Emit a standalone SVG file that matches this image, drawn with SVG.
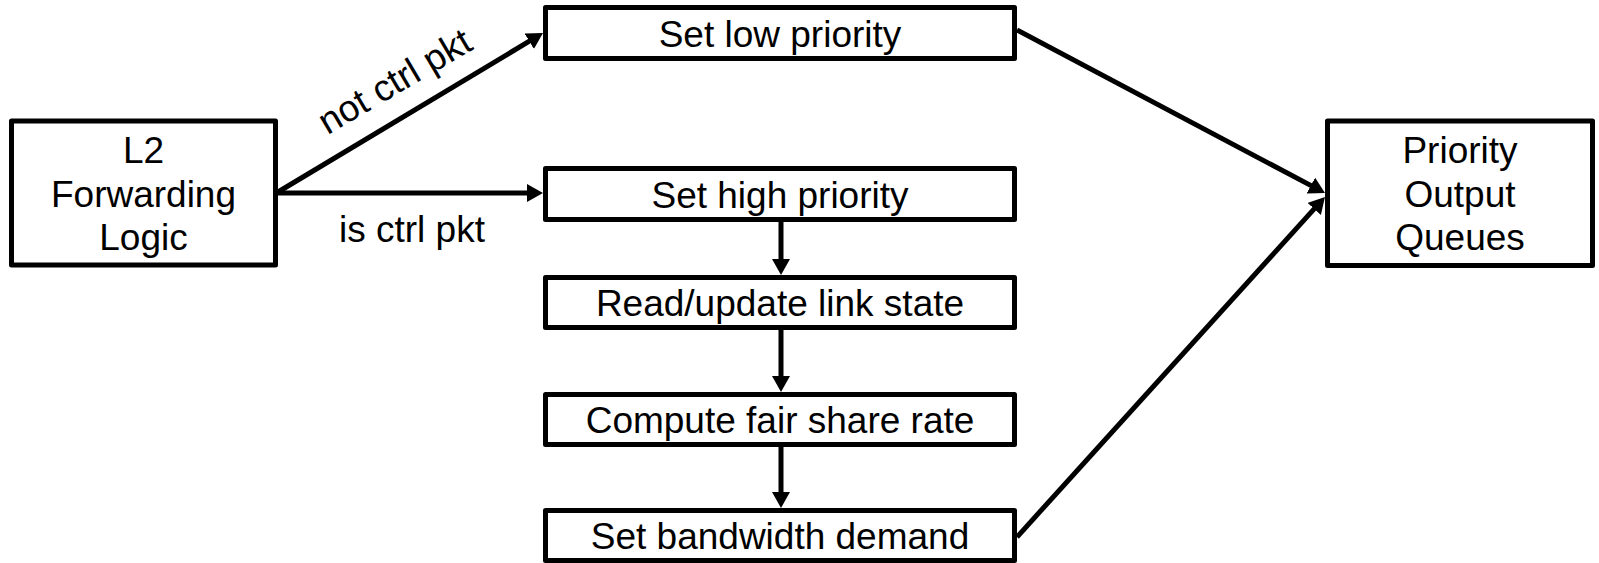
<svg xmlns="http://www.w3.org/2000/svg" width="1599" height="563" viewBox="0 0 1599 563">
<style>
.box{fill:#fff;stroke:#000;stroke-width:5;stroke-linejoin:round}
.t{font-family:"Liberation Sans",Arial,sans-serif;font-size:37px;fill:#000;text-anchor:middle}
.c{stroke:#000;stroke-width:5;fill:none;marker-end:url(#ah)}
</style>
<defs>
<marker id="ah" viewBox="0 0 16 18" refX="4" refY="9" markerWidth="16" markerHeight="18" markerUnits="userSpaceOnUse" orient="auto">
<path d="M0,0 L16,9 L0,18 z" fill="#000"/>
</marker>
</defs>
<g id="connectors">
<line class="c" x1="278" y1="192" x2="532.7" y2="39.2"/>
<line class="c" x1="278" y1="193" x2="531" y2="193"/>
<line class="c" x1="1017" y1="30" x2="1314.4" y2="187.4"/>
<line class="c" x1="1017" y1="537" x2="1316.9" y2="205.9"/>
<line class="c" x1="781" y1="220" x2="781" y2="263"/>
<line class="c" x1="781" y1="328" x2="781" y2="380"/>
<line class="c" x1="781" y1="445" x2="781" y2="496"/>
<text class="t" transform="translate(401,92) rotate(-30.5)">not ctrl pkt</text>
<text class="t" x="412" y="242">is ctrl pkt</text>
</g>
<g id="l2">
<rect class="box" x="11.5" y="121" width="264" height="144"/>
<text class="t" x="143.5" y="163">L2</text>
<text class="t" x="143.5" y="206.5">Forwarding</text>
<text class="t" x="143.5" y="250">Logic</text>
</g>
<g id="setlow">
<rect class="box" x="545.5" y="7.5" width="469" height="51"/>
<text class="t" x="780" y="46.5">Set low priority</text>
</g>
<g id="sethigh">
<rect class="box" x="545.5" y="168.5" width="469" height="51"/>
<text class="t" x="780" y="207.5">Set high priority</text>
</g>
<g id="readupdate">
<rect class="box" x="545.5" y="277.5" width="469" height="50"/>
<text class="t" x="780" y="316">Read/update link state</text>
</g>
<g id="compute">
<rect class="box" x="545.5" y="394.5" width="469" height="50"/>
<text class="t" x="780" y="433">Compute fair share rate</text>
</g>
<g id="setbw">
<rect class="box" x="545.5" y="510.5" width="469" height="50"/>
<text class="t" x="780" y="549">Set bandwidth demand</text>
</g>
<g id="poq">
<rect class="box" x="1327.5" y="121" width="265" height="144.5"/>
<text class="t" x="1460" y="163">Priority</text>
<text class="t" x="1460" y="206.5">Output</text>
<text class="t" x="1460" y="250">Queues</text>
</g>
</svg>
